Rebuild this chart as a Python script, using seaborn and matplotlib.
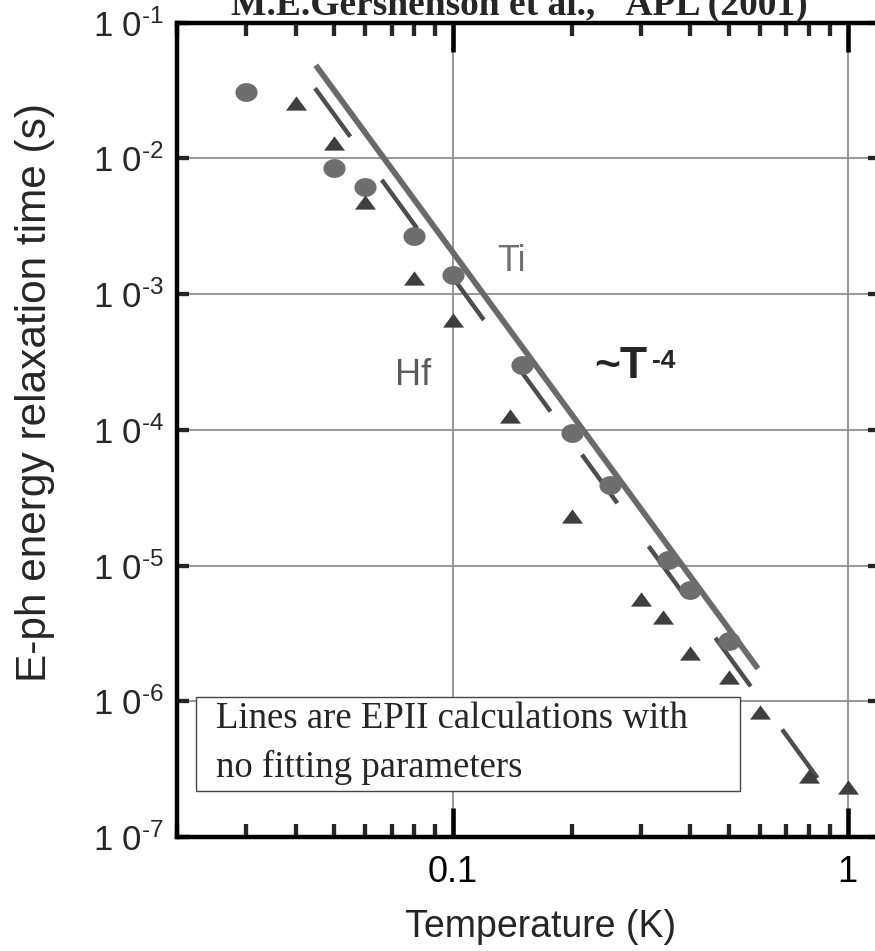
import numpy as np
import pandas as pd
import matplotlib
matplotlib.use('Agg')
import matplotlib.pyplot as plt
import matplotlib.ticker as mticker
from matplotlib.patches import Rectangle
import seaborn as sns

# Ti data (circles)
ti_T = [0.03, 0.05, 0.06, 0.08, 0.1, 0.15, 0.2, 0.25, 0.35, 0.4, 0.5]
ti_tau = [3.07e-2, 8.5e-3, 6.2e-3, 2.7e-3, 1.38e-3, 3.0e-4, 9.5e-5, 3.9e-5, 1.09e-5, 6.6e-6, 2.8e-6]

# Hf data (triangles)
hf_T = [0.04, 0.05, 0.06, 0.08, 0.1, 0.14, 0.2, 0.3, 0.34, 0.4, 0.5, 0.6, 0.8, 1.0]
hf_tau = [2.55e-2, 1.29e-2, 4.8e-3, 1.32e-3, 6.4e-4, 1.26e-4, 2.3e-5, 5.7e-6, 4.2e-6,
          2.25e-6, 1.52e-6, 8.3e-7, 2.8e-7, 2.33e-7]

# EPI calculation lines (end points)
ti_line_T = [0.045, 0.593]
ti_line_tau = [4.86e-2, 1.74e-6]
hf_line_T = [0.0448, 0.974]
hf_line_tau = [3.29e-2, 1.5e-7]

x_ticks = [0.1, 1]
x_ticklabels = ['0.1', '1']
y_exps = [-7, -6, -5, -4, -3, -2, -1]

ti = pd.DataFrame({'T': ti_T, 'tau': ti_tau})
hf = pd.DataFrame({'T': hf_T, 'tau': hf_tau})

sns.set_style('white')
plt.rcParams['font.family'] = ['Liberation Sans', 'DejaVu Sans']
plt.rcParams['mathtext.fontset'] = 'custom'
plt.rcParams['mathtext.rm'] = 'Liberation Sans'

fig = plt.figure(figsize=(8.75, 9.51), dpi=100)
ax = fig.add_axes([0.20194, 0.11987, 0.80377, 0.85626])
ax.set_xscale('log')
ax.set_yscale('log')

# marker shapes
th = np.linspace(0, 2 * np.pi, 40)
ellipse = np.column_stack([np.cos(th), 0.85 * np.sin(th)])
tri = [(-1, -0.68), (1, -0.68), (0, 0.68), (-1, -0.68)]

sns.lineplot(x=ti_line_T, y=ti_line_tau, color='#6a6a6a', linewidth=4.2,
             solid_capstyle='butt', ax=ax, zorder=3)
sns.lineplot(x=hf_line_T, y=hf_line_tau, color='#4d4d4d', linewidth=3.2,
             linestyle=(0, (13.5, 12)), ax=ax, zorder=3)
sns.scatterplot(data=ti, x='T', y='tau', marker=ellipse, s=255, color='#6e6e6e',
                linewidth=0, ax=ax, zorder=4)
sns.scatterplot(data=hf, x='T', y='tau', marker=tri, s=228, color='#3e3e3e',
                linewidth=0, ax=ax, zorder=4)

ax.set_xlim(0.02, 1.208)
ax.set_ylim(1e-7, 1e-1)

ax.set_xticks(x_ticks)
ax.set_xticklabels(x_ticklabels)
ax.xaxis.set_minor_locator(mticker.LogLocator(base=10, subs=np.arange(2, 10)))
ax.xaxis.set_minor_formatter(mticker.NullFormatter())
ax.set_yticks([10.0 ** e for e in y_exps])
ax.set_yticklabels([r'$\mathregular{1\;0^{\text{-}%d}}$' % -e for e in y_exps])
ax.yaxis.set_minor_locator(mticker.NullLocator())

ax.tick_params(axis='x', which='major', direction='in', length=21, width=3.3,
               top=True, bottom=True, labelsize=26, pad=13, colors='black')
ax.tick_params(axis='x', which='minor', direction='in', length=9.5, width=3.1,
               top=True, bottom=True)
ax.tick_params(axis='y', which='major', direction='in', length=8.5, width=3.1,
               left=True, right=True, labelsize=25, pad=9)

for sp in ax.spines.values():
    sp.set_linewidth(3.2)
    sp.set_color('black')

ax.grid(True, which='major', color='#8f8f8f', linewidth=1.3)
ax.set_axisbelow(True)
ax.set_xlabel('')
ax.set_ylabel('')

# annotations
ax.text(0.1295, 1.47e-3, 'Ti', fontsize=26, color='#707070', ha='left', va='baseline')
ax.text(0.0714, 2.14e-4, 'Hf', fontsize=26, color='#5a5a5a', ha='left', va='baseline')
ax.text(0.228, 2.39e-4, '~T', fontsize=32, fontweight='bold', ha='left', va='baseline')
ax.text(0.319, 2.88e-4, '-4', fontsize=19, fontweight='bold', ha='left', va='baseline')

ax.add_patch(Rectangle((0.027, 0.0565), 0.774, 0.1158, transform=ax.transAxes,
                       facecolor='white', edgecolor='#444444', linewidth=1.0, zorder=5))
ax.text(0.0555, 0.1335, 'Lines are EPII calculations with', transform=ax.transAxes,
        fontfamily='Liberation Serif', fontsize=26.5, ha='left', va='baseline', zorder=6)
ax.text(0.0555, 0.0740, 'no fitting parameters', transform=ax.transAxes,
        fontfamily='Liberation Serif', fontsize=26.5, ha='left', va='baseline', zorder=6)

fig.text(519 / 875, 1 - 15 / 951, 'M.E.Gershenson et al., "APL (2001)',
         fontfamily='Liberation Serif', fontweight='bold', fontsize=27,
         ha='center', va='baseline')
fig.text(541 / 875, 1 - 927 / 951, 'Temperature (K)', fontsize=27,
         ha='center', va='center')
fig.text(35 / 875, 1 - 393 / 951, 'E-ph energy relaxation time (s)', fontsize=30.5,
         rotation=90, ha='center', va='center')

fig.savefig('out.png', dpi=100)
